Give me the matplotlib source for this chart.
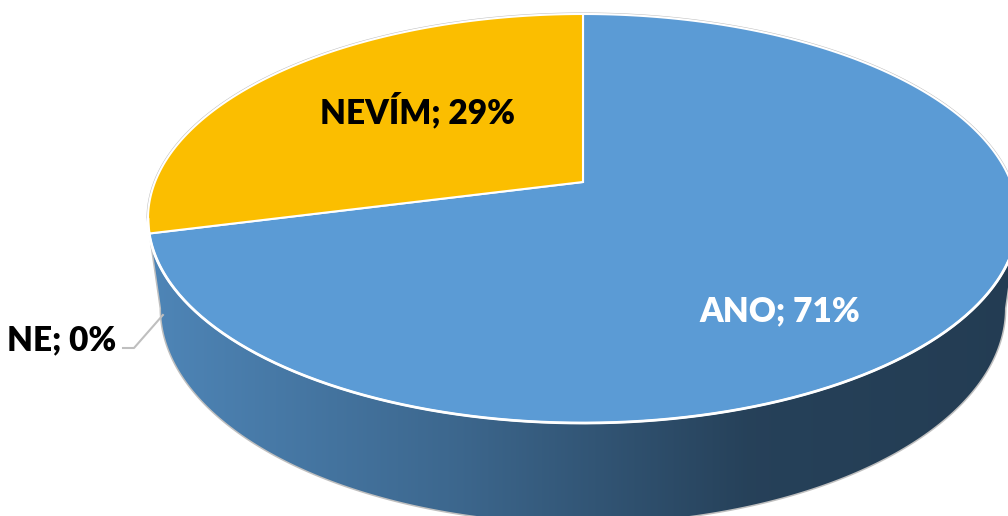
import numpy as np
import matplotlib.pyplot as plt
from matplotlib.patches import Polygon
from matplotlib.colors import to_rgb

# podíly odpovědí (pořadí jako v Excelu, po směru hodinových ručiček od 12 h)
labels = ["ANO", "NE", "NEVÍM"]
values = [71, 0, 29]
colors = ["#5B9BD5", "#A5A5A5", "#FBBE00"]
label_colors = ["white", "black", "black"]

# geometrie 3D koláče v pixelech
cx, cy = 583, 182
A, B = 428, 198
k = 0.1785          # perspektiva (zadní strana menší)
H = 88              # výška boku
shrink = 0.03       # spodní podstava je o něco menší


def proj(t, depth=0.0):
    t = np.radians(t)
    u, v = np.cos(t), np.sin(t)
    s = 1 - shrink * depth
    d = 1 + k * v
    return cx + A * s * u / d, cy + (H * depth - B * s * v) / d


def shade(x):
    # tmavnutí boku zleva doprava
    return np.interp(x, [150, 450, 750, 1018], [0.86, 0.67, 0.42, 0.39])


fig = plt.figure(figsize=(10.08, 5.16), dpi=100)
ax = fig.add_axes([0, 0, 1, 1])
ax.set_xlim(0, 1008)
ax.set_ylim(516, 0)
ax.axis("off")

total = sum(values)
cum = np.concatenate([[0], np.cumsum(values)])
t_start = 90 - 360 * cum[:-1] / total
t_end = 90 - 360 * cum[1:] / total

vis_lo = 180 + np.degrees(np.arcsin(k))
vis_hi = 360 - np.degrees(np.arcsin(k))

# obrys (jemný stín)
tb = np.linspace(vis_hi, vis_lo + 360, 300)
tf = np.linspace(vis_lo, vis_hi, 300)
sx = np.concatenate([proj(tb)[0], proj(tf, 1)[0]])
sy = np.concatenate([proj(tb)[1], proj(tf, 1)[1]])
ax.add_patch(Polygon(np.column_stack([sx, sy]), closed=True, fc="none",
                     ec="#BFBFBF", lw=2.2, zorder=1))

# boky (úzké kousky na okraji se nekreslí)
xs = np.arange(0, 1009)
for i in range(len(values)):
    if values[i] == 0:
        continue
    a0, a1 = t_end[i] % 360, t_start[i] % 360
    if a1 <= a0:
        a1 += 360
    for off in (0, 360):
        lo, hi = max(a0, vis_lo + off), min(a1, vis_hi + off)
        if hi - lo < 6:
            continue
        if i == 0:
            lo = min(lo, vis_lo + off)
        tt = np.linspace(lo, hi, 200)
        tx, ty = proj(tt)
        bx, by = proj(tt[::-1], 1)
        wall = Polygon(np.column_stack([np.concatenate([tx, bx]),
                                        np.concatenate([ty, by])]),
                       closed=True, fc="none", ec="none", zorder=2)
        ax.add_patch(wall)
        rgb = np.array(to_rgb(colors[i]))
        grad = shade(xs)[None, :, None] * rgb[None, None, :]
        im = ax.imshow(np.repeat(grad, 2, axis=0), extent=[0, 1008, 516, 0],
                       aspect="auto", zorder=2, interpolation="bilinear")
        im.set_clip_path(wall)

# horní plocha
for i in range(len(values)):
    if values[i] == 0:
        continue
    tt = np.linspace(t_start[i], t_end[i], 300)
    px, py = proj(tt)
    pts = np.column_stack([np.concatenate([[cx], px]), np.concatenate([[cy], py])])
    ax.add_patch(Polygon(pts, closed=True, fc=colors[i], ec="white",
                         lw=1.5, zorder=3))

# bílá hrana vpředu
ex, ey = proj(np.linspace(vis_lo, vis_hi, 300))
ax.plot(ex, ey, color="white", lw=2, zorder=4, solid_capstyle="round")

font = dict(family=["Lato", "DejaVu Sans"], fontweight="heavy", fontsize=24)
txt = [f"{l}; {v}%" for l, v in zip(labels, values)]
ax.text(780, 311, txt[0], color=label_colors[0], ha="center", va="center",
        zorder=5, **font)
ax.text(417, 111, txt[2], color=label_colors[2], ha="center", va="center",
        zorder=5, **font)

# popisek nulového dílu s odkazovou čárou
mid = t_start[1]
x_top, y_top = proj(mid)
x_bot, y_bot = proj(mid, 1)
lx, ly = x_top + 0.9 * (x_bot - x_top) + 2, y_top + 0.9 * (y_bot - y_top)
ax.plot([123, 134, lx], [348, 348, ly], color="#BFBFBF", lw=1.5, zorder=5)
ax.text(116, 340, txt[1], color=label_colors[1], ha="right", va="center",
        zorder=5, **font)

fig.savefig("out.png", dpi=100)
